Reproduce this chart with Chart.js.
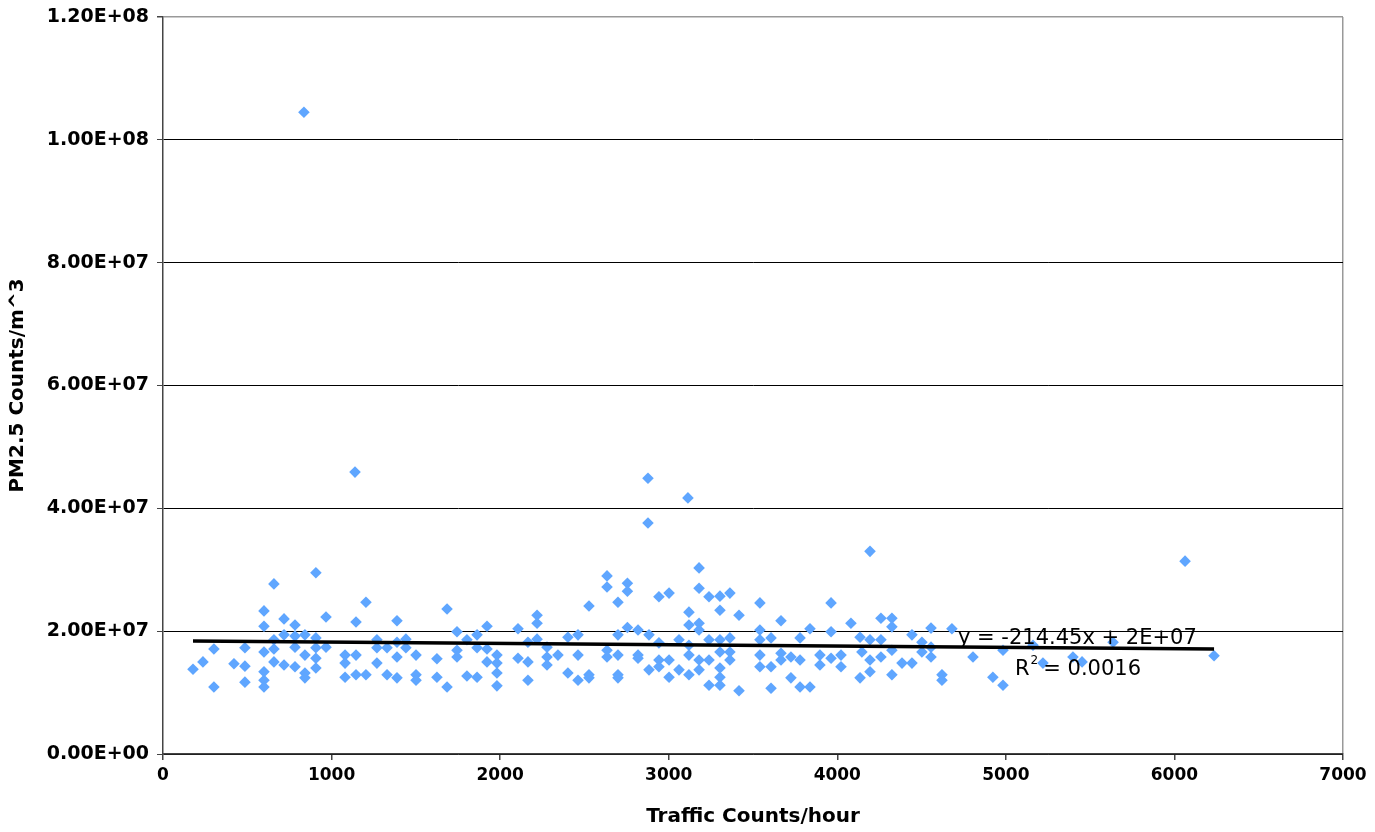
<!DOCTYPE html>
<html lang="en">

<head>
  <meta charset="UTF-8">
  <title>PM2.5 vs Traffic</title>
  <script src="https://cdn.jsdelivr.net/npm/chart.js"></script>
  <style>
    body { margin: 0; background: #fff; }
  </style>
</head>

<body>
  <canvas id="myChart" width="1375" height="832"></canvas>

  <script>
    // traffic counts per hour (x) and PM2.5 counts/m^3 (y)
    const trafficCounts = [
      178, 237, 302, 302, 421, 486, 486, 486, 599, 599, 599, 599, 599, 599,
      658, 658, 658, 658, 718, 718, 718, 783, 783, 783, 783, 842, 842, 842, 842,
      907, 907, 907, 907, 907, 967, 967, 1080, 1080, 1080, 1145, 1145, 1145,
      1204, 1204, 1269, 1269, 1269, 1329, 1329, 1388, 1388, 1388, 1388, 836, 1139,
      1441, 1441, 1501, 1501, 1501, 1625, 1625, 1685, 1685, 1744, 1744, 1744,
      1803, 1803, 1863, 1863, 1863, 1922, 1922, 1922, 1981, 1981, 1981, 1981,
      2106, 2106, 2165, 2165, 2165, 2219, 2219, 2219, 2278, 2278, 2278, 2343,
      2402, 2402, 2462, 2462, 2462, 2527, 2527, 2527, 2634, 2634, 2634, 2634,
      2699, 2699, 2699, 2699, 2699, 2755, 2755, 2755,
      2818, 2818, 2818, 2883, 2883, 2942, 2942, 2942, 2942, 3002, 3002, 3002,
      3061, 3061, 3120, 3120, 3120, 3120, 3120, 3180, 3180, 3180, 3180, 3180, 3180,
      3239, 3239, 3239, 3239, 3304, 3304, 3304, 3304, 3304, 3304, 3304,
      3363, 3363, 3363, 3363, 3417, 3417, 3541, 3541, 3541, 3541, 3541,
      3607, 3607, 3607, 3666, 3666, 3666, 3725, 3725, 3779, 3779, 3779,
      3838, 3838, 3897, 3897, 3963, 3963, 3963, 4022, 4022, 4081, 4135, 4135,
      4146, 4194, 4194, 4194, 4259, 4259, 4259, 4324, 4324, 4324, 4324, 4384,
      4443, 4443, 4502, 4502, 4556, 4556, 4556, 4621, 4621, 4680, 4805, 4923,
      4983, 4983, 4194, 2877, 2877, 3114, 6063,
      5161, 5220, 5398, 5452, 5636, 6235
    ];
    const pm25Counts = [
      1.38e7, 1.50e7, 1.71e7, 1.09e7, 1.47e7, 1.43e7, 1.73e7, 1.17e7, 2.33e7, 2.08e7, 1.66e7, 1.34e7, 1.20e7, 1.09e7,
      2.77e7, 1.86e7, 1.71e7, 1.50e7, 2.20e7, 1.94e7, 1.45e7, 2.10e7, 1.92e7, 1.74e7, 1.42e7, 1.94e7, 1.61e7, 1.32e7, 1.24e7,
      2.95e7, 1.89e7, 1.73e7, 1.56e7, 1.40e7, 2.23e7, 1.74e7, 1.61e7, 1.48e7, 1.25e7, 2.15e7, 1.61e7, 1.29e7,
      2.47e7, 1.29e7, 1.86e7, 1.73e7, 1.48e7, 1.73e7, 1.29e7, 2.17e7, 1.82e7, 1.58e7, 1.24e7, 1.045e8, 4.59e7,
      1.87e7, 1.73e7, 1.61e7, 1.29e7, 1.20e7, 1.55e7, 1.25e7, 2.36e7, 1.09e7, 1.99e7, 1.69e7, 1.58e7,
      1.86e7, 1.27e7, 1.94e7, 1.73e7, 1.25e7, 2.08e7, 1.71e7, 1.50e7, 1.61e7, 1.48e7, 1.32e7, 1.11e7,
      2.04e7, 1.56e7, 1.82e7, 1.50e7, 1.20e7, 2.26e7, 2.13e7, 1.87e7, 1.74e7, 1.58e7, 1.45e7, 1.61e7,
      1.90e7, 1.32e7, 1.94e7, 1.61e7, 1.20e7, 2.41e7, 1.29e7, 1.24e7, 2.90e7, 2.72e7, 1.69e7, 1.58e7,
      2.47e7, 1.94e7, 1.61e7, 1.29e7, 1.24e7, 2.78e7, 2.65e7, 2.06e7,
      2.02e7, 1.61e7, 1.56e7, 1.94e7, 1.37e7, 2.56e7, 1.81e7, 1.53e7, 1.42e7, 2.62e7, 1.53e7, 1.25e7,
      1.86e7, 1.37e7, 2.31e7, 2.10e7, 1.77e7, 1.61e7, 1.29e7, 3.03e7, 2.70e7, 2.13e7, 2.02e7, 1.53e7, 1.37e7,
      2.56e7, 1.86e7, 1.53e7, 1.12e7, 2.57e7, 2.34e7, 1.86e7, 1.66e7, 1.40e7, 1.25e7, 1.12e7,
      2.62e7, 1.89e7, 1.66e7, 1.53e7, 2.26e7, 1.03e7, 2.46e7, 2.02e7, 1.86e7, 1.61e7, 1.42e7,
      1.89e7, 1.42e7, 1.07e7, 2.17e7, 1.64e7, 1.53e7, 1.58e7, 1.24e7, 1.89e7, 1.53e7, 1.09e7,
      2.04e7, 1.09e7, 1.61e7, 1.45e7, 2.46e7, 1.99e7, 1.56e7, 1.61e7, 1.42e7, 2.13e7, 1.90e7, 1.24e7,
      1.66e7, 1.86e7, 1.53e7, 1.34e7, 2.21e7, 1.86e7, 1.58e7, 2.21e7, 2.07e7, 1.69e7, 1.29e7, 1.48e7,
      1.94e7, 1.48e7, 1.82e7, 1.66e7, 2.05e7, 1.74e7, 1.58e7, 1.29e7, 1.20e7, 2.04e7, 1.58e7, 1.25e7,
      1.12e7, 1.69e7, 3.30e7, 4.49e7, 3.76e7, 4.17e7, 3.14e7,
      1.77e7, 1.48e7, 1.58e7, 1.50e7, 1.82e7, 1.60e7
    ];

    // linear trendline end points, y = -214.45x + 2E+07
    const trendX = [178, 6235];
    const trendY = [1.841e7, 1.711e7];

    const yTicks = [0, 2e7, 4e7, 6e7, 8e7, 1e8, 1.2e8];
    const xTicks = [0, 1000, 2000, 3000, 4000, 5000, 6000, 7000];

    const equationText = 'y = -214.45x + 2E+07';
    const rSquaredText = '0.0016';

    const points = trafficCounts.map((x, i) => ({ x: x, y: pm25Counts[i] }));
    const trend = trendX.map((x, i) => ({ x: x, y: trendY[i] }));

    function sci(v) {
      if (v === 0) return '0.00E+00';
      const e = Math.floor(Math.log10(v) + 1e-9);
      const m = v / Math.pow(10, e);
      return m.toFixed(2) + 'E+' + String(e).padStart(2, '0');
    }

    const family = '"DejaVu Sans", Verdana, sans-serif';
    const yLabelFont = { family: family, size: 19, weight: 'bold', lineHeight: 1 };
    const xLabelFont = { family: family, size: 17, weight: 'bold' };
    const titleFont = { family: family, size: 20, weight: 'bold' };

    const equationPlugin = {
      id: 'equation',
      afterDatasetsDraw(chart) {
        const c = chart.ctx;
        c.save();
        c.fillStyle = '#000';
        c.textBaseline = 'alphabetic';
        c.font = '21px ' + family;
        c.fillText(equationText, 958, 644);
        c.fillText('R', 1015, 675);
        const rw = c.measureText('R').width;
        c.font = '12px ' + family;
        c.fillText('2', 1015 + rw + 1, 664);
        c.font = '21px ' + family;
        c.fillText(' = ' + rSquaredText, 1015 + rw + 7, 675);
        c.restore();
      }
    };

    const ctx = document.getElementById('myChart');

    const chart = new Chart(ctx, {
      type: 'scatter',
      data: {
        datasets: [
          {
            type: 'line',
            label: 'Linear trend',
            data: trend,
            borderColor: '#000',
            borderWidth: 3.5,
            pointRadius: 0,
            fill: false,
            order: 0
          },
          {
            label: 'PM2.5',
            data: points,
            pointStyle: 'rectRot',
            pointRadius: 5.8,
            pointBackgroundColor: '#5FA6FF',
            pointBorderColor: '#5FA6FF',
            pointBorderWidth: 0,
            order: 1
          }
        ]
      },
      options: {
        responsive: false,
        animation: false,
        layout: {
          padding: { top: 17, right: 32, left: 0, bottom: 0 }
        },
        plugins: {
          legend: { display: false },
          tooltip: { enabled: false }
        },
        scales: {
          x: {
            type: 'linear',
            min: 0,
            max: 7000,
            afterBuildTicks: (s) => { s.ticks = xTicks.map(v => ({ value: v })); },
            afterFit: (s) => { s.height = 78; },
            ticks: {
              color: '#000',
              font: xLabelFont,
              padding: 5,
              callback: (v) => String(v)
            },
            grid: {
              color: (c) => (c.tick && c.tick.value === 7000 ? '#999' : 'rgba(0,0,0,0)'),
              tickColor: '#444',
              tickLength: 6,
              lineWidth: 1.5
            },
            border: { color: '#444', width: 1.5 },
            title: {
              display: true,
              text: 'Traffic Counts/hour',
              color: '#000',
              font: titleFont,
              padding: { top: 2, bottom: 3 }
            }
          },
          y: {
            min: 0,
            max: 1.2e8,
            afterBuildTicks: (s) => { s.ticks = yTicks.map(v => ({ value: v })); },
            afterFit: (s) => { s.width = 163; s.paddingTop = 0; },
            ticks: {
              color: '#000',
              font: yLabelFont,
              padding: 8,
              callback: (v) => sci(v)
            },
            grid: {
              color: (c) => (c.tick && c.tick.value === 1.2e8 ? '#999' : '#000'),
              tickColor: '#444',
              tickLength: 6,
              lineWidth: (c) => (c.tick && c.tick.value === 1.2e8 ? 1.5 : 1)
            },
            border: { color: '#444', width: 1.5 },
            title: {
              display: true,
              text: 'PM2.5 Counts/m^3',
              color: '#000',
              font: titleFont,
              padding: { top: 6, bottom: 2 }
            }
          }
        }
      },
      plugins: [equationPlugin]
    });
  </script>
</body>

</html>
